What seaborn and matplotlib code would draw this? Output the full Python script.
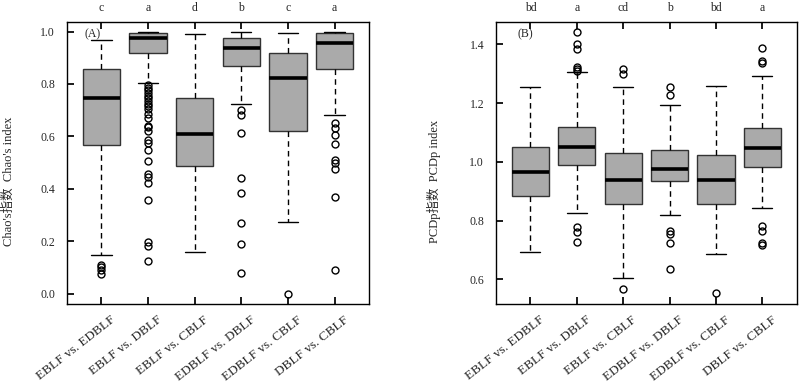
import seaborn as sns
import matplotlib.pyplot as plt
from matplotlib.transforms import ScaledTranslation

# forest-type pairs on the x axis
pairs = ["EBLF vs. EDBLF", "EBLF vs. DBLF", "EBLF vs. CBLF",
         "EDBLF vs. DBLF", "EDBLF vs. CBLF", "DBLF vs. CBLF"]

# (A) Chao's index - box summaries
chao_lo = [0.146, 0.802, 0.158, 0.722, 0.272, 0.681]
chao_q1 = [0.566, 0.919, 0.487, 0.869, 0.620, 0.857]
chao_med = [0.748, 0.976, 0.607, 0.936, 0.822, 0.958]
chao_q3 = [0.857, 0.994, 0.745, 0.976, 0.919, 0.994]
chao_hi = [0.967, 1.000, 0.989, 1.000, 0.994, 1.000]
chao_fliers = [
    [0.110, 0.100, 0.088, 0.073],
    [0.795, 0.785, 0.775, 0.765, 0.755, 0.745, 0.735, 0.725, 0.715, 0.705,
     0.687, 0.668, 0.640, 0.635, 0.620, 0.585, 0.575, 0.547, 0.506,
     0.458, 0.445, 0.422, 0.356, 0.196, 0.180, 0.126],
    [],
    [0.702, 0.683, 0.611, 0.441, 0.385, 0.271, 0.190, 0.078],
    [0.0],
    [0.649, 0.630, 0.604, 0.572, 0.511, 0.500, 0.474, 0.368, 0.089],
]
chao_letters = ["c", "a", "d", "b", "c", "a"]

# (B) PCDp index
pcdp_lo = [0.694, 0.827, 0.603, 0.818, 0.686, 0.842]
pcdp_q1 = [0.884, 0.990, 0.856, 0.934, 0.856, 0.981]
pcdp_med = [0.966, 1.051, 0.938, 0.977, 0.938, 1.048]
pcdp_q3 = [1.051, 1.119, 1.029, 1.042, 1.023, 1.116]
pcdp_hi = [1.255, 1.306, 1.255, 1.195, 1.259, 1.291]
pcdp_fliers = [
    [],
    [1.442, 1.403, 1.386, 1.323, 1.315, 1.308, 0.779, 0.762, 0.727],
    [1.315, 1.298, 0.567],
    [1.255, 1.227, 0.765, 0.754, 0.725, 0.636],
    [0.553],
    [1.389, 1.342, 1.335, 0.781, 0.764, 0.725, 0.717],
]
pcdp_letters = ["bd", "a", "cd", "b", "bd", "a"]


def make_stats(lo, q1, med, q3, hi, fliers):
    return [dict(whislo=lo[i], q1=q1[i], med=med[i], q3=q3[i], whishi=hi[i],
                 fliers=fliers[i], label=pairs[i]) for i in range(len(pairs))]


def draw_panel(fig, ax, stats, letters, tag, tag_x, ylabel, label_x, ylim, yticks):
    ax.bxp(stats, positions=range(1, len(stats) + 1), widths=0.8,
           patch_artist=True, showfliers=True, capwidths=0.43,
           boxprops=dict(facecolor="#aaaaaa", edgecolor="#333333", linewidth=1),
           medianprops=dict(color="black", linewidth=2.6, solid_capstyle="butt"),
           whiskerprops=dict(color="black", linewidth=1, linestyle=(0, (4, 3))),
           capprops=dict(color="black", linewidth=1),
           flierprops=dict(marker="o", markerfacecolor="none",
                           markeredgecolor="black", markersize=5,
                           markeredgewidth=1))
    ax.set_xlim(0.26, 6.74)
    ax.set_ylim(*ylim)
    ax.set_yticks(yticks)
    ax.set_yticklabels([f"{t:.1f}" for t in yticks], fontsize=8.5)
    ax.set_xticks(range(1, len(pairs) + 1))
    ax.set_xticklabels([])
    ax.tick_params(axis="x", direction="in", length=5, top=True, bottom=True,
                   labeltop=False, color="black")
    ax.tick_params(axis="y", direction="in", length=5, right=False, pad=8.5,
                   color="black")
    for s in ax.spines.values():
        s.set_color("black")
        s.set_linewidth(1)

    # slanted category labels, anchored just below-right of each tick
    shift = ScaledTranslation(0.125, -0.145, fig.dpi_scale_trans)
    lab_trans = ax.get_xaxis_transform() + shift
    for i, name in enumerate(pairs):
        ax.text(i + 1, 0, name, transform=lab_trans, rotation=38,
                ha="right", va="center", rotation_mode="anchor", fontsize=9.5)

    ax.set_ylabel(ylabel, fontsize=9)
    ax.yaxis.set_label_coords(label_x, 0.436)
    ax.set_xlabel("")
    trans = ax.get_xaxis_transform()
    for i, let in enumerate(letters):
        ax.text(i + 1, 1.049, let, transform=trans, ha="center", va="center",
                fontsize=8.5)
    ax.text(tag_x, 0.957, tag, transform=ax.transAxes, ha="center",
            va="center", fontsize=8.5)


sns.set_theme(style="ticks")
plt.rcParams["font.family"] = ["Liberation Serif", "Noto Sans CJK SC"]
plt.rcParams["font.size"] = 9

fig = plt.figure(figsize=(8, 3.82), dpi=100)
ax1 = fig.add_axes([0.08375, 0.2042, 0.3775, 0.738])
ax2 = fig.add_axes([0.62, 0.2042, 0.376, 0.738])

draw_panel(fig, ax1,
           make_stats(chao_lo, chao_q1, chao_med, chao_q3, chao_hi, chao_fliers),
           chao_letters, "(A)", 0.086, "Chao's指数  Chao's index", -0.172,
           (-0.04, 1.036), [0.0, 0.2, 0.4, 0.6, 0.8, 1.0])
draw_panel(fig, ax2,
           make_stats(pcdp_lo, pcdp_q1, pcdp_med, pcdp_q3, pcdp_hi, pcdp_fliers),
           pcdp_letters, "(B)", 0.096, "PCDp指数  PCDp index", -0.183,
           (0.516, 1.476), [0.6, 0.8, 1.0, 1.2, 1.4])

fig.savefig("out.png", dpi=100)
